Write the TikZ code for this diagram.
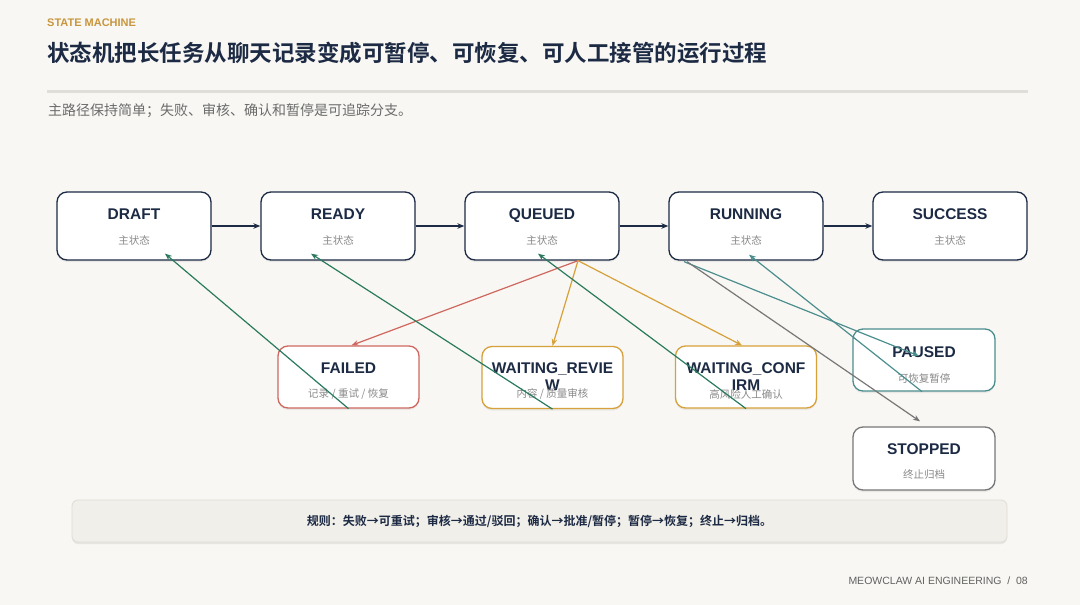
\documentclass[tikz,border=0pt]{standalone}
\usepackage{fontspec}
\setmainfont{Liberation Sans}
\newfontfamily\cjk{Noto Sans CJK SC}[BoldFont={Noto Sans CJK SC Bold}]
\usetikzlibrary{arrows.meta,shadows,calc}
\definecolor{bg}{HTML}{F8F7F3}
\definecolor{navy}{HTML}{1C2A44}
\definecolor{goldc}{HTML}{D6A13A}
\definecolor{redc}{HTML}{CF675F}
\definecolor{greenc}{HTML}{2A7A5E}
\definecolor{tealc}{HTML}{4C8E8E}
\definecolor{grayc}{HTML}{777777}
\definecolor{subgray}{HTML}{8A8A8A}
\definecolor{kicker}{HTML}{C8963E}
\definecolor{rulefill}{HTML}{F1EFE9}
\definecolor{ruleline}{HTML}{E0DDD6}
\definecolor{sepline}{HTML}{E0DED9}
\tikzset{
  box/.style={draw, rounded corners=10pt, fill=white, line width=1.3pt, inner sep=0pt,
    drop shadow={opacity=0.12, shadow xshift=0pt, shadow yshift=-2pt}},
  topbox/.style={box, draw=navy, minimum width=154pt, minimum height=68pt},
  lowbox/.style={box, minimum width=141pt, minimum height=62pt},
  ttl/.style={font=\fontsize{15.5pt}{17pt}\selectfont\bfseries, text=navy, inner sep=0pt, align=center},
  ttlb/.style={ttl, anchor=base},
  sub/.style={font=\cjk\fontsize{10.5pt}{12pt}\selectfont, text=subgray, inner sep=0pt},
  tip/.style={-{Stealth[length=7pt,width=5.5pt]}},
  mainedge/.style={tip, draw=navy, line width=1.8pt},
  edge/.style={tip, line width=1.2pt},
}
\begin{document}
\begin{tikzpicture}[x=1pt,y=-1pt]
\useasboundingbox (0,0) rectangle (1080,605);
\fill[bg] (0,0) rectangle (1080,605);

% header
\node[anchor=west, inner sep=0pt, text=kicker, font=\fontsize{11pt}{13pt}\selectfont\bfseries] (kick) at (47,23) {STATE MACHINE};
\node[anchor=west, inner sep=0pt, text=navy, font=\cjk\fontsize{22.5pt}{26pt}\selectfont\bfseries] (title) at (47,53) {状态机把长任务从聊天记录变成可暂停、可恢复、可人工接管的运行过程};
\draw[sepline, line width=3pt] (47,91) -- (1028,91);
\node[anchor=west, inner sep=0pt, text=black!58, font=\cjk\fontsize{14pt}{16pt}\selectfont] (subt) at (48,111) {主路径保持简单；失败、审核、确认和暂停是可追踪分支。};

% top states
\node[topbox] (draft) at (134,226) {};
\node[topbox] (ready) at (338,226) {};
\node[topbox] (queued) at (542,226) {};
\node[topbox] (running) at (746,226) {};
\node[topbox] (success) at (950,226) {};
\foreach \n/\t in {draft/DRAFT, ready/READY, queued/QUEUED, running/RUNNING, success/SUCCESS}{
  \node[ttlb] (\n T) at ([yshift=6.5pt]\n.center) {\t};
  \node[sub] (\n S) at ([yshift=-14pt]\n.center) {主状态};
}

% lower states
\node[lowbox, draw=redc] (failed) at (348.5,377) {};
\node[lowbox, draw=goldc] (wreview) at (552.5,377.5) {};
\node[lowbox, draw=goldc] (wconfirm) at (746,377) {};
\node[lowbox, draw=tealc, minimum width=142pt] (paused) at (924,360) {};
\node[lowbox, draw=grayc, minimum width=142pt, minimum height=63pt] (stopped) at (924,458.5) {};

\node[ttlb] (failedT) at ([yshift=3.5pt]failed.center) {FAILED};
\node[sub] (failedS) at ([yshift=-17pt]failed.center) {记录 / 重试 / 恢复};
\node[ttl] (wreviewT) at ([yshift=1pt]wreview.center) {WAITING\_REVIE\\W};
\node[sub] (wreviewS) at ([yshift=-16.5pt]wreview.center) {内容 / 质量审核};
\node[ttl] (wconfirmT) at ([yshift=0.5pt]wconfirm.center) {WAITING\_CONF\\IRM};
\node[sub] (wconfirmS) at ([yshift=-17pt]wconfirm.center) {高风险人工确认};
\node[ttlb] (pausedT) at ([yshift=2.5pt]paused.center) {PAUSED};
\node[sub] (pausedS) at ([yshift=-18pt]paused.center) {可恢复暂停};
\node[ttlb] (stoppedT) at ([yshift=4pt]stopped.center) {STOPPED};
\node[sub] (stoppedS) at ([yshift=-16.5pt]stopped.center) {终止归档};

% main chain
\draw[mainedge] (draft) -- (ready);
\draw[mainedge] (ready) -- (queued);
\draw[mainedge] (queued) -- (running);
\draw[mainedge] (running) -- (success);

% branches from QUEUED
\coordinate (qout) at ([xshift=36pt]queued.south);
\draw[edge, redc] (qout) -- ([xshift=3pt]failed.north);
\draw[edge, goldc] (qout) -- (wreview.north);
\draw[edge, goldc] (qout) -- ([xshift=-4pt]wconfirm.north);

% returns
\draw[edge, greenc] (failed.south) -- ([xshift=31pt,yshift=7pt]draft.south);
\draw[edge, greenc] (wreview.south) -- ([xshift=-27pt,yshift=7pt]ready.south);
\draw[edge, greenc] (wconfirm.south) -- ([xshift=-4pt,yshift=7pt]queued.south);

% running branches
\coordinate (rout) at ([xshift=-62pt,yshift=-1pt]running.south);
\draw[edge, tealc] (rout) -- ([xshift=-5pt,yshift=4pt]paused.center);
\draw[edge, tealc] ([xshift=-2pt]paused.south) -- ([xshift=3pt,yshift=6pt]running.south);
\draw[edge, grayc] ([xshift=3pt]rout) -- ([xshift=-4pt,yshift=5pt]stopped.north);

% rules
\node[draw=ruleline, fill=rulefill, rounded corners=6pt, line width=0.8pt, minimum width=935pt, minimum height=42pt, inner sep=0pt,
  drop shadow={opacity=0.15, shadow xshift=0pt, shadow yshift=-2pt},
  text=navy, font=\cjk\fontsize{12pt}{14pt}\selectfont\bfseries] (rules) at (539.5,521) {规则：失败→可重试；审核→通过/驳回；确认→批准/暂停；暂停→恢复；终止→归档。};

% footer
\node[anchor=east, inner sep=0pt, text=black!62, font=\fontsize{10.5pt}{12pt}\selectfont] (footer) at (1028,581) {MEOWCLAW AI ENGINEERING\ \ /\ \ 08};
\end{tikzpicture}
\end{document}
